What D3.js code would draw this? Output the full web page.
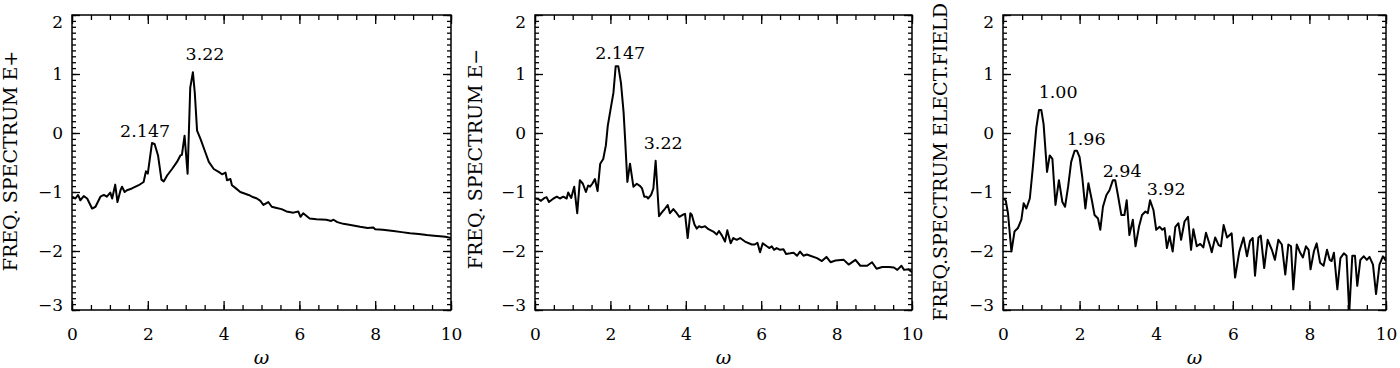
<!DOCTYPE html>
<html>
<head>
<meta charset="utf-8">
<script src="https://cdn.jsdelivr.net/npm/d3@7"></script>
<style>
  body { margin: 0; background: #fff; }
  svg { display: block; }
</style>
</head>
<body>
<div class="chart"></div>
<script>
// tick values and titles
var xTicks = [0, 2, 4, 6, 8, 10];
var yTicks = [-3, -2, -1, 0, 1, 2];
var yTitles = ["FREQ. SPECTRUM E+", "FREQ. SPECTRUM E\u2212", "FREQ.SPECTRUM ELECT.FIELD"];

// [omega, log spectrum]
var specPlus = [[0,-1.08],[0.09,-1.11],[0.16,-1.05],[0.22,-1.14],[0.31,-1.07],[0.40,-1.11],[0.53,-1.28],[0.62,-1.25],
  [0.75,-1.08],[0.84,-1.05],[0.92,-1.08],[1.01,-1.01],[1.06,-1.11],[1.14,-0.875],[1.20,-1.17],[1.28,-0.97],[1.32,-0.91],
  [1.39,-1.0],[1.45,-0.97],[1.58,-0.94],[1.76,-0.885],[1.89,-0.83],[1.95,-0.65],[2.0,-0.69],[2.11,-0.17],[2.18,-0.185],
  [2.27,-0.38],[2.36,-0.79],[2.42,-0.82],[2.51,-0.72],[2.64,-0.61],[2.77,-0.49],[2.86,-0.38],[2.90,-0.37],[2.97,-0.045],
  [3.05,-0.69],[3.12,0.77],[3.19,1.03],[3.24,0.68],[3.30,0.04],[3.39,-0.1],[3.52,-0.33],[3.61,-0.49],[3.74,-0.61],
  [3.87,-0.66],[3.96,-0.70],[4.05,-0.67],[4.09,-0.80],[4.18,-0.78],[4.22,-0.885],[4.31,-0.93],[4.44,-1.0],[4.57,-1.03],
  [4.66,-1.05],[4.75,-1.08],[4.88,-1.11],[4.97,-1.15],[5.05,-1.22],[5.18,-1.17],[5.27,-1.25],[5.40,-1.27],[5.53,-1.29],
  [5.66,-1.33],[5.84,-1.35],[5.97,-1.33],[6.03,-1.42],[6.10,-1.36],[6.27,-1.45],[6.45,-1.46],[6.71,-1.47],[6.84,-1.49],
  [6.90,-1.47],[7.0,-1.51],[7.16,-1.54],[7.35,-1.56],[7.60,-1.59],[7.80,-1.61],[7.95,-1.60],[8.0,-1.63],[8.2,-1.64],
  [8.48,-1.66],[8.7,-1.68],[8.92,-1.70],[9.15,-1.71],[9.36,-1.73],[9.55,-1.74],[9.71,-1.75],[9.85,-1.76],[10,-1.78]];

var specMinus = [[0,-1.11],[0.09,-1.12],[0.16,-1.15],[0.25,-1.10],[0.31,-1.09],[0.37,-1.17],[0.49,-1.11],[0.58,-1.08],
  [0.66,-1.11],[0.75,-1.08],[0.84,-1.11],[0.88,-1.01],[0.96,-1.10],[1.04,-0.91],[1.12,-1.36],[1.19,-0.80],[1.27,-0.86],
  [1.35,-1.0],[1.41,-0.89],[1.46,-0.91],[1.52,-0.86],[1.59,-0.78],[1.66,-0.985],[1.73,-0.52],[1.81,-0.44],[1.88,-0.21],
  [1.93,0.12],[2.02,0.46],[2.08,0.68],[2.14,1.13],[2.21,1.13],[2.28,0.85],[2.35,0.35],[2.39,-0.10],[2.45,-0.83],
  [2.52,-0.52],[2.61,-0.91],[2.70,-0.86],[2.79,-0.90],[2.84,-0.94],[2.90,-1.08],[2.96,-1.08],[3.0,-1.11],[3.08,-1.05],
  [3.14,-0.94],[3.20,-0.47],[3.29,-1.41],[3.36,-1.35],[3.45,-1.28],[3.52,-1.22],[3.58,-1.36],[3.67,-1.29],[3.76,-1.36],
  [3.83,-1.42],[3.94,-1.38],[3.98,-1.37],[4.05,-1.78],[4.12,-1.36],[4.16,-1.39],[4.23,-1.55],[4.29,-1.62],[4.35,-1.58],
  [4.42,-1.60],[4.51,-1.58],[4.60,-1.63],[4.73,-1.67],[4.82,-1.72],[4.88,-1.66],[4.96,-1.74],[5.04,-1.84],[5.10,-1.65],
  [5.19,-1.87],[5.26,-1.78],[5.35,-1.81],[5.44,-1.78],[5.57,-1.84],[5.75,-1.89],[5.83,-1.89],[5.90,-1.86],[5.97,-2.02],
  [6.04,-1.87],[6.15,-1.92],[6.22,-1.95],[6.28,-1.92],[6.34,-1.98],[6.41,-1.95],[6.50,-1.98],[6.59,-1.97],[6.66,-2.05],
  [6.77,-2.04],[6.86,-2.03],[6.95,-2.08],[7.03,-2.01],[7.12,-2.08],[7.21,-2.06],[7.34,-2.09],[7.48,-2.12],[7.61,-2.17],
  [7.73,-2.10],[7.84,-2.19],[7.97,-2.16],[8.19,-2.15],[8.32,-2.23],[8.50,-2.15],[8.63,-2.25],[8.81,-2.25],[8.94,-2.19],
  [9.06,-2.30],[9.21,-2.27],[9.39,-2.27],[9.52,-2.28],[9.61,-2.32],[9.72,-2.25],[9.79,-2.32],[9.90,-2.31],[10,-2.36]];

var specField = [[0,-1.11],[0.07,-1.14],[0.13,-1.36],[0.22,-2.01],[0.30,-1.67],[0.39,-1.61],[0.48,-1.47],[0.54,-1.19],
  [0.61,-1.28],[0.70,-1.11],[0.78,-0.58],[0.87,0.09],[0.94,0.39],[1.0,0.39],[1.06,0.15],[1.15,-0.66],[1.22,-0.38],
  [1.29,-0.44],[1.37,-1.22],[1.46,-0.80],[1.55,-1.17],[1.62,-1.25],[1.70,-0.91],[1.78,-0.49],[1.87,-0.30],[1.93,-0.30],
  [2.0,-0.41],[2.07,-0.75],[2.15,-1.28],[2.23,-0.85],[2.32,-1.14],[2.39,-1.39],[2.48,-1.45],[2.54,-1.64],[2.61,-1.25],
  [2.70,-1.05],[2.78,-0.97],[2.87,-0.80],[2.93,-0.80],[3.0,-1.05],[3.09,-1.39],[3.17,-1.39],[3.23,-1.14],[3.30,-1.73],
  [3.39,-1.47],[3.46,-1.92],[3.55,-1.59],[3.63,-1.39],[3.72,-1.33],[3.78,-1.36],[3.84,-1.14],[3.93,-1.31],[4.0,-1.64],
  [4.09,-1.59],[4.16,-1.64],[4.22,-1.61],[4.28,-1.95],[4.35,-1.75],[4.43,-2.01],[4.50,-1.59],[4.58,-1.53],[4.65,-1.81],
  [4.74,-1.50],[4.83,-1.42],[4.91,-1.98],[4.97,-1.63],[5.06,-1.92],[5.15,-1.88],[5.23,-1.94],[5.30,-1.69],[5.41,-1.92],
  [5.45,-2.02],[5.54,-1.77],[5.63,-1.90],[5.69,-1.92],[5.76,-1.56],[5.85,-1.77],[5.97,-1.70],[6.06,-2.45],[6.17,-2.01],
  [6.28,-1.77],[6.37,-2.09],[6.45,-1.83],[6.52,-1.78],[6.58,-2.42],[6.67,-1.77],[6.73,-1.74],[6.82,-2.29],[6.91,-1.81],
  [7.02,-1.98],[7.10,-2.15],[7.19,-1.81],[7.28,-1.89],[7.37,-2.40],[7.45,-1.89],[7.52,-1.92],[7.58,-2.65],[7.67,-1.89],
  [7.76,-2.03],[7.83,-2.11],[7.91,-1.92],[7.98,-1.98],[8.03,-2.31],[8.12,-2.0],[8.19,-1.87],[8.28,-2.20],[8.37,-2.25],
  [8.46,-1.98],[8.53,-2.15],[8.58,-2.17],[8.64,-2.03],[8.73,-2.65],[8.81,-2.12],[8.90,-2.04],[8.97,-2.08],[9.04,-3.05],
  [9.12,-2.08],[9.19,-2.08],[9.25,-2.59],[9.33,-2.15],[9.42,-2.09],[9.50,-2.15],[9.57,-2.10],[9.66,-2.23],[9.74,-2.73],
  [9.83,-2.23],[9.92,-2.09],[10,-2.17]];

// peak labels: text, omega, value at baseline
var peaksPlus = [["2.147", 1.93, -0.07], ["3.22", 3.51, 1.24]];
var peaksMinus = [["2.147", 2.26, 1.25], ["3.22", 3.40, -0.27]];
var peaksField = [["1.00", 1.44, 0.59], ["1.96", 2.17, -0.20], ["2.94", 3.11, -0.75], ["3.92", 4.26, -1.05]];

var svgWidth = 1400;
var svgHeight = 368;
var plotTop = 15, plotBottom = 310;
var font = "'DejaVu Serif', serif";

var panels = [
  { left: 72, right: 451, data: specPlus, peaks: peaksPlus, title: yTitles[0], titleX: 17, titleY: 161 },
  { left: 535, right: 912, data: specMinus, peaks: peaksMinus, title: yTitles[1], titleX: 482, titleY: 159 },
  { left: 1003, right: 1386, data: specField, peaks: peaksField, title: yTitles[2], titleX: 947, titleY: 162 }
];

var svg = d3.select(".chart")
  .append("svg")
  .attr("width", svgWidth)
  .attr("height", svgHeight);

panels.forEach(function(p, i) {
  var x = d3.scaleLinear().domain([0, 10]).range([p.left, p.right]);
  var y = d3.scaleLinear().domain([-3, 2]).range([plotBottom, plotTop]);
  var g = svg.append("g");

  var xMinor = d3.range(0, 10.001, 0.5);
  var yMinor = d3.range(-3, 2.001, 0.1);

  function noDomain(sel) { sel.select(".domain").remove(); }

  // minor ticks, all four sides
  g.append("g").attr("transform", "translate(0," + plotBottom + ")")
    .call(d3.axisBottom(x).tickValues(xMinor).tickSizeInner(-5).tickSizeOuter(0).tickFormat("")).call(noDomain);
  g.append("g").attr("transform", "translate(0," + plotTop + ")")
    .call(d3.axisTop(x).tickValues(xMinor).tickSizeInner(-5).tickSizeOuter(0).tickFormat("")).call(noDomain);
  g.append("g").attr("transform", "translate(" + p.left + ",0)")
    .call(d3.axisLeft(y).tickValues(yMinor).tickSizeInner(-4).tickSizeOuter(0).tickFormat("")).call(noDomain);
  g.append("g").attr("transform", "translate(" + p.right + ",0)")
    .call(d3.axisRight(y).tickValues(yMinor).tickSizeInner(-4).tickSizeOuter(0).tickFormat("")).call(noDomain);

  // major ticks
  var xAxis = g.append("g").attr("transform", "translate(0," + plotBottom + ")")
    .call(d3.axisBottom(x).tickValues(xTicks).tickSizeInner(-9).tickSizeOuter(0).tickPadding(18).tickFormat(d3.format("d")))
    .call(noDomain);
  g.append("g").attr("transform", "translate(0," + plotTop + ")")
    .call(d3.axisTop(x).tickValues(xTicks).tickSizeInner(-9).tickSizeOuter(0).tickFormat("")).call(noDomain);
  var yAxis = g.append("g").attr("transform", "translate(" + p.left + ",0)")
    .call(d3.axisLeft(y).tickValues(yTicks).tickSizeInner(-8).tickSizeOuter(0).tickPadding(9).tickFormat(d3.format("d")))
    .call(noDomain);
  g.append("g").attr("transform", "translate(" + p.right + ",0)")
    .call(d3.axisRight(y).tickValues(yTicks).tickSizeInner(-8).tickSizeOuter(0).tickFormat("")).call(noDomain);

  g.selectAll(".tick line").attr("stroke", "#000").attr("stroke-width", 1.3);
  [xAxis, yAxis].forEach(function(a) {
    a.attr("font-family", font).attr("font-size", 17);
    a.selectAll("text").attr("fill", "#000");
  });
  // keep end labels inside the frame
  yAxis.selectAll(".tick text").filter(function(d) { return d === 2; }).attr("dy", "0.75em");
  yAxis.selectAll(".tick text").filter(function(d) { return d === -3; }).attr("dy", "0em");

  // frame
  g.append("rect")
    .attr("x", p.left).attr("y", plotTop)
    .attr("width", p.right - p.left).attr("height", plotBottom - plotTop)
    .attr("fill", "none").attr("stroke", "#000").attr("stroke-width", 1.5);

  svg.append("clipPath").attr("id", "clip" + i)
    .append("rect").attr("x", p.left).attr("y", plotTop)
    .attr("width", p.right - p.left).attr("height", plotBottom - plotTop);

  var line = d3.line()
    .x(function(d) { return x(d[0]); })
    .y(function(d) { return y(d[1]); });

  g.append("path")
    .datum(p.data)
    .attr("clip-path", "url(#clip" + i + ")")
    .attr("d", line)
    .attr("fill", "none")
    .attr("stroke", "#000")
    .attr("stroke-width", 2)
    .attr("stroke-linejoin", "round");

  g.selectAll(".peak")
    .data(p.peaks)
    .enter().append("text")
    .attr("class", "peak")
    .attr("x", function(d) { return x(d[1]); })
    .attr("y", function(d) { return y(d[2]); })
    .attr("text-anchor", "middle")
    .attr("font-family", font)
    .attr("font-size", 17.5)
    .text(function(d) { return d[0]; });

  g.append("text")
    .attr("transform", "translate(" + p.titleX + "," + p.titleY + ") rotate(-90)")
    .attr("text-anchor", "middle")
    .attr("font-family", font)
    .attr("font-size", 19)
    .text(p.title);

  g.append("text")
    .attr("x", (p.left + p.right) / 2)
    .attr("y", 364)
    .attr("text-anchor", "middle")
    .attr("font-family", font)
    .attr("font-style", "italic")
    .attr("font-size", 19)
    .text("\u03c9");
});
</script>
</body>
</html>
